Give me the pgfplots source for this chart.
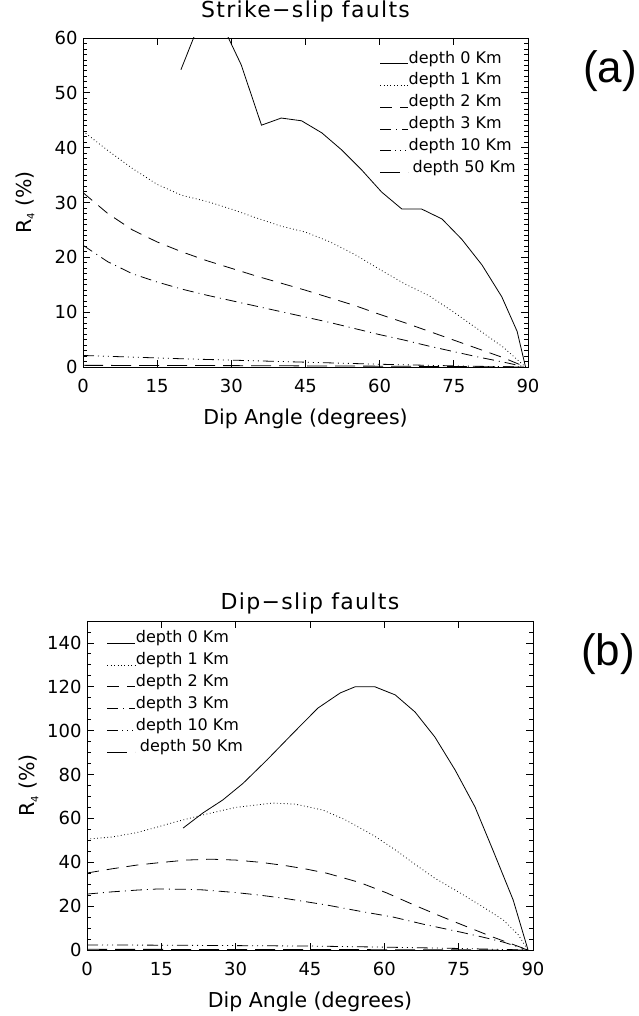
\documentclass[border=0pt]{standalone}
\usepackage{fontspec}
\setmainfont{DejaVu Sans}
\newfontfamily\titlefont[LetterSpace=6]{DejaVu Sans}
\newfontfamily\arialfont{Liberation Sans}
\usepackage{pgfplots}
\pgfplotsset{compat=1.18}
\newcommand{\tickfont}{\fontsize{18}{18}\selectfont}
\pgfplotsset{
  myaxis/.style={
    scale only axis, height=329pt,
    xmin=0, xmax=90, ymin=0,
    xtick={0,15,...,90},
    minor x tick num=0,
    tick align=inside,
    tick pos=both,
    major tick length=7pt, minor tick length=3.5pt,
    axis line style={line width=0.9pt},
    every tick/.style={black, line width=0.8pt},
    /pgf/number format/assume math mode=true,
    xticklabel style={font=\tickfont, yshift=-9pt},
    yticklabel style={font=\tickfont, xshift=-2pt},
    xticklabel={\tickfont\pgfmathprintnumber{\tick}},
    yticklabel={\tickfont\pgfmathprintnumber{\tick}},
    xlabel={Dip Angle (degrees)},
    xlabel style={font=\fontsize{20.5}{20.5}\selectfont, at={(axis description cs:0.5,-0.1277)}, anchor=north, inner sep=0pt},
    ylabel={R\raisebox{-0.3ex}{\fontsize{10}{10}\selectfont 4} (\%)},
    ylabel style={font=\fontsize{20.5}{20.5}\selectfont, at={(axis description cs:-0.1303,0.5)}, anchor=center, inner sep=0pt},
    title style={font=\titlefont\fontsize{22}{22}\selectfont, anchor=base, inner sep=0pt},
    legend style={draw=none, fill=none, inner sep=0pt, outer sep=0pt, row sep=5.8pt, column sep=0pt,
      font=\fontsize{16}{16}\selectfont, nodes={inner sep=0pt, text height=12pt, text depth=4pt}},
    legend cell align=left,
    legend image code/.code={\draw[##1] (0pt,-4.4pt) -- (28pt,-4.4pt);},
  },
  l0/.style={black, line width=0.8pt, solid},
  l1/.style={black, line width=0.8pt, dash pattern=on 0.8pt off 2.6pt},
  l2/.style={black, line width=0.8pt, dash pattern=on 12pt off 8pt},
  l3/.style={black, line width=0.8pt, dash pattern=on 11pt off 5pt on 1pt off 5pt},
  l4/.style={black, line width=0.8pt, dash pattern=on 11pt off 4pt on 1pt off 4pt on 1pt off 4pt on 1pt off 4pt},
  l5/.style={black, line width=0.8pt, dash pattern=on 20pt off 8pt},
}
\begin{document}
\begin{tikzpicture}
\useasboundingbox (0,0) rectangle (639pt,1016pt);
% ---------------- panel (a)
\begin{axis}[myaxis, at={(83pt,649pt)}, anchor=south west, width=445pt,
  ymax=60, ytick={0,10,...,60}, minor y tick num=9,
  title={Strike−slip faults},
  title style={at={(axis description cs:0.5,1.0426)}},
  legend style={at={(axis description cs:0.667,0.960)}, anchor=north west},
]
\addplot[l0] coordinates {(19.8,54.2) (23.9,63.5) (28.0,62.7) (32.0,55.1) (36.1,44.1) (40.1,45.4) (44.2,44.9) (48.3,42.7) (52.3,39.6) (56.4,35.9) (60.4,31.9) (64.5,28.8) (68.5,28.8) (72.6,27.0) (76.6,23.3) (80.7,18.6) (84.7,12.8) (87.8,6.5) (89.5,0)};
\addlegendentry{depth 0 Km}
\addplot[l1] coordinates {(0,43) (5,39.5) (10,36.2) (15,33.3) (20,31.3) (25,30.2) (30,28.8) (35,27.2) (40,25.7) (45,24.6) (50,22.8) (55,20.5) (60,17.8) (65,15.2) (70,13.0) (75,10.0) (80,6.8) (85,3.6) (89.5,0)};
\addlegendentry{depth 1 Km}
\addplot[l2] coordinates {(0,31.8) (5,28) (10,25) (15,22.8) (20,21) (25,19.4) (30,18) (35,16.6) (40,15.3) (45,14) (50,12.6) (55,11.2) (60,9.6) (65,8.1) (70,6.5) (75,4.9) (80,3.3) (85,1.7) (89.5,0)};
\addlegendentry{depth 2 Km}
\addplot[l3] coordinates {(0,22.2) (5,19.2) (10,17) (15,15.5) (20,14.2) (25,13.1) (30,12.1) (35,11.1) (40,10.1) (45,9.1) (50,8.1) (55,7.0) (60,5.9) (65,4.9) (70,3.8) (75,2.8) (80,1.8) (85,0.9) (89.5,0)};
\addlegendentry{depth 3 Km}
\addplot[l4] coordinates {(0,2.1) (10,1.8) (20,1.5) (30,1.25) (40,1.0) (50,0.75) (60,0.5) (70,0.3) (80,0.12) (89.5,0)};
\addlegendentry{depth 10 Km}
\addplot[l5] coordinates {(0,0.3) (30,0.25) (60,0.15) (80,0.05) (89.5,0)};
\addlegendentry{\hspace{4pt}depth 50 Km}
\end{axis}
% ---------------- panel (b)
\begin{axis}[myaxis, at={(87pt,66pt)}, anchor=south west, width=446pt,
  ymax=150, ytick={0,20,...,160}, minor y tick num=3,
  title={Dip−slip faults},
  title style={at={(axis description cs:0.5,1.0182)}},
  legend style={at={(axis description cs:0.045,0.970)}, anchor=north west},
]
\addplot[l0] coordinates {(19.4,55.6) (23.4,62.5) (27.4,68.4) (31.5,76) (36.3,86.6) (41.6,98.9) (46.6,110.3) (51.1,117.2) (54.1,120) (58.1,120) (62.2,116.3) (66.2,108.5) (70.2,97.1) (74.3,82) (78.3,65.2) (81.9,45.6) (86,22.8) (89,0)};
\addlegendentry{depth 0 Km}
\addplot[l1] coordinates {(0,50.6) (5,51.5) (10,53.5) (14.1,56) (18,58.5) (23.4,61.6) (30,65) (37.5,67) (42,66.5) (47.6,63.8) (52,59.5) (57.7,52.4) (62,46) (65.8,39.7) (70,33) (75.3,26) (80,19.5) (84,13.7) (87,7) (89,0)};
\addlegendentry{depth 1 Km}
\addplot[l2] coordinates {(0,35.1) (5,37) (10,38.7) (14.1,39.7) (20,41) (25,41.4) (30,41) (34.9,40) (40,38.5) (44,37) (48.4,35) (55,30.8) (60.5,26) (66,20.5) (71.8,15) (77,10.3) (81.9,5.9) (86,2.5) (89,0)};
\addlegendentry{depth 2 Km}
\addplot[l3] coordinates {(0,25.5) (5,26.5) (10,27.3) (14.1,27.8) (20,27.7) (23.4,27.4) (30,26.2) (34.9,25) (40,23.5) (48.4,20.5) (55,17.7) (61.8,15) (68,11.7) (75.3,8.2) (80,5.8) (84,3.6) (89,0)};
\addlegendentry{depth 3 Km}
\addplot[l4] coordinates {(0,2.3) (15,2.2) (30,2.0) (45,1.8) (60,1.3) (75,0.7) (85,0.2) (89,0)};
\addlegendentry{depth 10 Km}
\addplot[l5] coordinates {(0,0.3) (30,0.25) (60,0.15) (80,0.05) (89,0)};
\addlegendentry{\hspace{4pt}depth 50 Km}
\end{axis}
\node[font=\arialfont\fontsize{44}{44}\selectfont, anchor=base] at (610pt,933pt) {(a)};
\node[font=\arialfont\fontsize{44}{44}\selectfont, anchor=base] at (608pt,350pt) {(b)};
\end{tikzpicture}
\end{document}
